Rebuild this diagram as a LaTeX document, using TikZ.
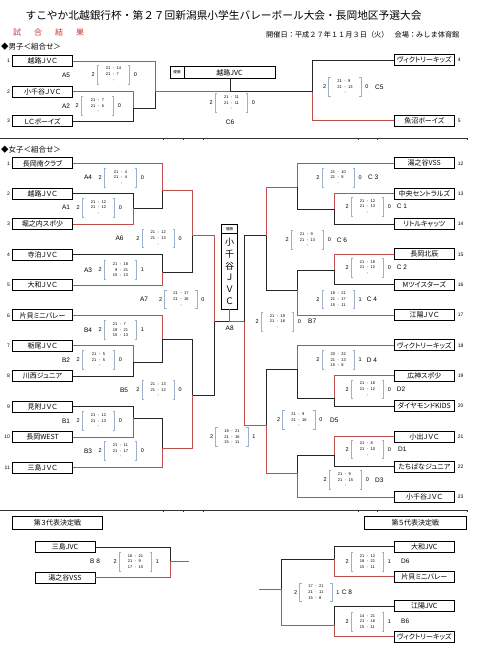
\documentclass[tikz,border=0pt]{standalone}
\usepackage{fontspec}
\setmainfont{Liberation Sans}
\newfontfamily\jpf[RawFeature=+palt]{Noto Sans CJK JP}
\newfontfamily\jpw{Noto Sans CJK JP}
\usepackage{tikz}
\usetikzlibrary{positioning}
\definecolor{lred}{HTML}{C0504D}
\definecolor{brkblue}{HTML}{9BB0CB}
\definecolor{kred}{HTML}{D03030}
\tikzset{
  team/.style ={rectangle, draw=black, line width=0.9pt, fill=white, minimum width=60pt,
                minimum height=11pt, inner sep=0pt, font=\jpf\fontsize{7}{8}\selectfont},
  ttl/.style  ={team, minimum height=12.3pt},
  hdr/.style  ={rectangle, draw=black, line width=0.8pt, fill=white, inner sep=0pt, outer sep=0pt,
                font=\jpf\fontsize{3.6}{4}\selectfont},
  champ/.style={hdr, font=\jpf\fontsize{7}{8}\selectfont},
  tno/.style  ={font=\fontsize{5}{6}\selectfont, inner sep=0pt},
  win/.style  ={draw=lred, line width=0.9pt},
  lose/.style ={draw=black!85, line width=0.9pt},
  sets/.style ={minimum width=32pt, minimum height=18.5pt, inner sep=0pt,
                font=\fontsize{4}{5.7}\selectfont},
  brk/.style  ={draw=brkblue, line width=0.7pt},
  setno/.style={font=\fontsize{5.5}{6}\selectfont, inner sep=0pt},
  code/.style ={font=\fontsize{6.5}{7}\selectfont, inner sep=0pt},
  sep/.style  ={draw=black!80, line width=0.8pt},
}
% score bracket: name, centre, sets left, rows, sets right
\newcommand{\setscore}[5]{%
  \node[sets] (#1) at (#2) {\begin{tabular}{@{}r@{\hspace{2.5pt}-\hspace{2.5pt}}l@{}}#4\end{tabular}};
  \draw[brk] ([xshift=2pt]#1.north west) -- (#1.north west) -- (#1.south west) -- ([xshift=2pt]#1.south west);
  \draw[brk] ([xshift=-2pt]#1.north east) -- (#1.north east) -- (#1.south east) -- ([xshift=-2pt]#1.south east);
  \node[setno, left=2.5pt of #1] {#3};
  \node[setno, right=4pt of #1] {#5};
}

\begin{document}
\begin{tikzpicture}[x=1pt, y=-1pt]
  \useasboundingbox (0,0) rectangle (480,655);

  % heading
  \node[font=\jpw\fontsize{10.7}{12}\selectfont] (title) at (223.5,15)
    {すこやか北越銀行杯・第２７回新潟県小学生バレーボール大会・長岡地区予選大会};
  \node[font=\jpf\fontsize{8}{9}\selectfont, text=kred, anchor=west, inner sep=0pt] (kekka) at (13,32)
    {試\hspace{13pt}合\hspace{13pt}結\hspace{13pt}果};
  \node[font=\jpw\fontsize{7.2}{8}\selectfont, anchor=west, inner sep=0pt] (date) at (266,34.5)
    {開催日：平成２７年１１月３日（火）\hspace{6pt}会場：みしま体育館};

  % boys
  \node[anchor=west, inner sep=0pt, font=\jpf\fontsize{7.5}{9}\selectfont] (boys) at (1,47) {◆男子＜組合せ＞};
  \node[team] (b1) at (42.5,61.2) {越路ＪＶＣ};
  \node[team] (b2) at (42.5,91.7) {小千谷ＪＶＣ};
  \node[team] (b3) at (42.5,121.2) {ＬＣボーイズ};
  \node[team] (b4) at (424.3,60) {ヴィクトリーキッズ};
  \node[team] (b5) at (424.3,120.5) {魚沼ボーイズ};
  \foreach \i in {1,2,3} \node[tno, left=2pt of b\i] {\i};
  \foreach \i in {4,5} \node[tno, right=3pt of b\i] {\i};
  \node[hdr, minimum width=14pt, minimum height=11.6pt] (bhdr) at (177,72.5) {優勝};
  \node[champ, minimum width=91pt, minimum height=11.6pt, right=0pt of bhdr] (bwin) {越路JVC};

  \coordinate (bA2) at (133,108);
  \coordinate (bA5) at (155,91.7);
  \coordinate (bC5) at (312,91.7);
  \coordinate (bC6) at (230,91.7);
  \draw[lose] (b3.east) -| (bA2);
  \draw[lose] (bA2) -| (bA5);
  \draw[lose] (b4.west) -| (bC5);
  \draw[lose] (bC5) -- (bC6);
  \draw[lose] (bC6) -- (bC6 |- bwin.south);
  \draw[win] (b2.east) -| (bA2);
  \draw[win] (b1.east) -| (bA5);
  \draw[win] (b5.west) -| (bC5);
  \draw[win] (bA5) -- (bC6);

  \setscore{sA5}{113.5,74.5}{2}{21&14\\21&7\\&}{0}
  \setscore{sA2}{97.5,106}{2}{21&7\\21&6\\&}{0}
  \setscore{sbC6}{231.5,103}{2}{21&11\\21&11\\&}{0}
  \setscore{sC5}{345,87}{2}{21&9\\21&13\\&}{0}
  \node[code] at (66,75) {A5};
  \node[code] at (66,106) {A2};
  \node[code] at (230,122) {C6};
  \node[code, anchor=west] at (375,87) {C5};

  \draw[sep] (0,138) -- (467,138);
  \foreach \x in {163,183,203,358,377,467} \draw[sep] (\x,138) -- ++(0,2);

  % girls
  \node[anchor=west, inner sep=0pt, font=\jpf\fontsize{7.5}{9}\selectfont] (girls) at (1,150) {◆女子＜組合せ＞};
  \foreach \tname [count=\i] in {長岡南クラブ,越路ＪＶＣ,堀之内スポ少,寺泊ＪＶＣ,大和ＪＶＣ,片貝ミニバレー,栃尾ＪＶＣ,川西ジュニア,見附ＪＶＣ,長岡WEST,三島ＪＶＣ}
  {
    \node[team] (g\i) at (42.5,{163.3+(\i-1)*30.42}) {\tname};
    \node[tno, left=2pt of g\i] {\i};
  }
  \foreach \tname [count=\i from 12] in {湯之谷VSS,中央セントラルズ,リトルキャッツ,長岡北辰,Mツイスターズ,江陽ＪＶＣ,ヴィクトリーキッズ,広神スポ少,ダイヤモンドKIDS,小出ＪＶＣ,たちばなジュニア,小千谷ＪＶＣ}
  {
    \node[team] (g\i) at (424.3,{163.3+(\i-12)*30.35}) {\tname};
    \node[tno, right=3pt of g\i] {\i};
  }
  \node[hdr, minimum width=16pt, minimum height=9.3pt] (ghdr) at (229.7,228.65) {優勝};
  \node[champ, minimum width=16pt, minimum height=76pt, below=0pt of ghdr, align=center,
        font=\jpf\fontsize{9}{11.9}\selectfont] (gwin) {小\\千\\谷\\Ｊ\\Ｖ\\Ｃ};

  \coordinate (jA1) at (133,208);
  \coordinate (jA4) at (162,190);
  \coordinate (jA3) at (162,272);
  \coordinate (jA6) at (192,235.7);
  \coordinate (jB2) at (133,362);
  \coordinate (jB4) at (162,339.3);
  \coordinate (jB1) at (133,418.3);
  \coordinate (jB3) at (162,448.3);
  \coordinate (jB5) at (192,395);
  \coordinate (jA7) at (214,321.7);
  \coordinate (jA8) at (229.7,321.7);
  \coordinate (jB7) at (244,321.7);
  \coordinate (jC1) at (334,209.3);
  \coordinate (jC3) at (297.3,187.3);
  \coordinate (jC2) at (334,270);
  \coordinate (jC4) at (297.3,290);
  \coordinate (jC6) at (266.7,235.7);
  \coordinate (jD2) at (334,398.3);
  \coordinate (jD4) at (297.3,369.3);
  \coordinate (jD1) at (334,455);
  \coordinate (jD3) at (297.3,473.3);
  \coordinate (jD5) at (266.7,425);

  \draw[lose] (g2.east) -| (jA1);
  \draw[lose] (jA1) -| (jA4);
  \draw[lose] (g4.east) -| (jA3);
  \draw[lose] (jA3) -| (jA6);
  \draw[lose] (g8.east) -| (jB2);
  \draw[lose] (jB2) -| (jB4);
  \draw[lose] (g9.east) -| (jB1);
  \draw[lose] (jB1) -| (jB3);
  \draw[lose] (jB4) -| (jB5);
  \draw[lose] (jB5) -| (jA7);
  \draw[lose] (jA7) -- (jA8);
  \draw[lose] (g14.west) -| (jC1);
  \draw[lose] (jC1) -| (jC3);
  \draw[lose] (g16.west) -| (jC2);
  \draw[lose] (jC2) -| (jC4);
  \draw[lose] (jC4) -| (jC6);
  \draw[lose] (g20.west) -| (jD2);
  \draw[lose] (jD2) -| (jD4);
  \draw[lose] (g22.west) -| (jD1);
  \draw[lose] (jD1) -| (jD3);
  \draw[lose] (jD4) -| (jD5);
  \draw[lose] (jC6) -| (jB7);

  \draw[win] (g3.east) -| (jA1);
  \draw[win] (g1.east) -| (jA4);
  \draw[win] (g5.east) -| (jA3);
  \draw[win] (jA4) -| (jA6);
  \draw[win] (g7.east) -| (jB2);
  \draw[win] (g6.east) -| (jB4);
  \draw[win] (g10.east) -| (jB1);
  \draw[win] (g11.east) -| (jB3);
  \draw[win] (jB3) -| (jB5);
  \draw[win] (jA6) -| (jA7);
  \draw[win] (g13.west) -| (jC1);
  \draw[win] (g12.west) -| (jC3);
  \draw[win] (g15.west) -| (jC2);
  \draw[win] (g17.west) -| (jC4);
  \draw[win] (jC3) -| (jC6);
  \draw[win] (g19.west) -| (jD2);
  \draw[win] (g18.west) -| (jD4);
  \draw[win] (g21.west) -| (jD1);
  \draw[win] (g23.west) -| (jD3);
  \draw[win] (jD3) -| (jD5);
  \draw[win] (jD5) -| (jB7);
  \draw[win] (jB7) -- (jA8);
  \draw[win] (jA8) -- (gwin.south);

  \setscore{sA4}{120.5,177.7}{2}{21&4\\21&4\\&}{0}
  \setscore{sA1}{98.5,207.7}{2}{21&12\\21&12\\&}{0}
  \setscore{sA6}{158.3,238.3}{2}{21&12\\21&13\\&}{0}
  \setscore{sA3}{120.5,270}{2}{21&18\\9&21\\15&13}{1}
  \setscore{sA7}{181,299.3}{2}{21&17\\21&16\\&}{0}
  \setscore{sB4}{120.5,330}{2}{21&7\\19&21\\15&13}{1}
  \setscore{sB2}{98.5,360}{2}{21&5\\21&5\\&}{0}
  \setscore{sB5}{158.3,390}{2}{21&13\\21&12\\&}{0}
  \setscore{sB1}{98.5,421}{2}{21&12\\21&13\\&}{0}
  \setscore{sB3}{120.5,451}{2}{21&11\\21&17\\&}{0}
  \setscore{sX}{232,437}{2}{18&21\\21&16\\15&11}{1}
  \setscore{sC3}{338.3,177.7}{2}{21&10\\21&8\\&}{0}
  \setscore{sC1}{367.5,206.7}{2}{21&12\\21&13\\&}{0}
  \setscore{sC6}{307.5,240}{2}{21&9\\21&13\\&}{0}
  \setscore{sC2}{367.5,267.7}{2}{21&18\\21&12\\&}{0}
  \setscore{sC4}{338.3,299.3}{2}{18&21\\21&17\\15&11}{1}
  \setscore{sB7}{277.5,321.7}{2}{21&19\\21&16\\&}{0}
  \setscore{sD4}{338.3,360}{2}{20&22\\21&13\\15&8}{1}
  \setscore{sD2}{367.5,389.3}{2}{21&16\\21&12\\&}{0}
  \setscore{sD5}{299,420}{2}{21&9\\21&16\\&}{0}
  \setscore{sD1}{367.5,449.3}{2}{21&8\\21&10\\&}{0}
  \setscore{sD3}{345.5,480}{2}{21&9\\21&15\\&}{0}

  \node[code] at (88,177.7) {A4};
  \node[code] at (66,207.7) {A1};
  \node[code] at (119.5,238.3) {A6};
  \node[code] at (88,270) {A3};
  \node[code] at (144,299.3) {A7};
  \node[code] at (88,330) {B4};
  \node[code] at (66,360) {B2};
  \node[code] at (124,390) {B5};
  \node[code] at (66,421) {B1};
  \node[code] at (88,451) {B3};
  \node[code] at (229.7,328) {A8};
  \node[code, anchor=west] at (368,177.7) {C 3};
  \node[code, anchor=west] at (396.7,206.7) {C 1};
  \node[code, anchor=west] at (336.7,240) {C 6};
  \node[code, anchor=west] at (396.7,267.7) {C 2};
  \node[code, anchor=west] at (366.7,299.3) {C 4};
  \node[code, anchor=west] at (308,321.7) {B7};
  \node[code, anchor=west] at (366.7,360) {D 4};
  \node[code, anchor=west] at (396.7,389.3) {D2};
  \node[code, anchor=west] at (330,420) {D5};
  \node[code, anchor=west] at (398,449.3) {D1};
  \node[code, anchor=west] at (375,480) {D3};

  \draw[sep] (0,510) -- (467,510);
  \foreach \x in {163,183,203,358,377,467} \draw[sep] (\x,510) -- ++(0,2);

  % playoffs
  \node[ttl, minimum width=89.6pt] (t3) at (57.5,522.85) {第３代表決定戦};
  \node[ttl, minimum width=102.7pt] (t5) at (415.35,522.85) {第５代表決定戦};
  \node[team] (p1) at (65,547) {三島JVC};
  \node[team] (p2) at (65,577.5) {湯之谷VSS};
  \node[team] (q1) at (424.3,546.7) {大和JVC};
  \node[team] (q2) at (424.3,576.7) {片貝ミニバレー};
  \node[team] (q3) at (424.3,606.3) {江陽JVC};
  \node[team] (q4) at (424.3,636.7) {ヴィクトリーキッズ};
  \coordinate (jB8) at (170,561.7);
  \coordinate (e3) at (189.3,561.7);
  \coordinate (jD6) at (334,559);
  \coordinate (jB6) at (334,625);
  \coordinate (jC8) at (281.7,589);
  \coordinate (e5) at (259.3,589);
  \draw[lose] (p1.east) -| (jB8);
  \draw[lose] (q1.west) -| (jD6);
  \draw[lose] (q3.west) -| (jB6);
  \draw[lose] (jD6) -| (jC8);
  \draw[win] (p2.east) -| (jB8);
  \draw[win] (jB8) -- (e3);
  \draw[win] (q2.west) -| (jD6);
  \draw[win] (q4.west) -| (jB6);
  \draw[win] (jB6) -| (jC8);
  \draw[win] (jC8) -- (e5);

  \setscore{sB8}{135.5,561.7}{2}{16&21\\21&9\\17&15}{1}
  \setscore{sD6}{367.5,561.7}{2}{21&12\\18&21\\15&11}{1}
  \setscore{sC8}{316,592.3}{2}{17&21\\21&11\\15&8}{1}
  \setscore{sB6}{367.5,621.7}{2}{14&21\\21&16\\15&11}{1}
  \node[code] at (95,561.7) {B 8};
  \node[code, anchor=west] at (401,561.7) {D6};
  \node[code, anchor=west] at (341.7,592.3) {C 8};
  \node[code, anchor=west] at (401,621.7) {B6};
\end{tikzpicture}
\end{document}
